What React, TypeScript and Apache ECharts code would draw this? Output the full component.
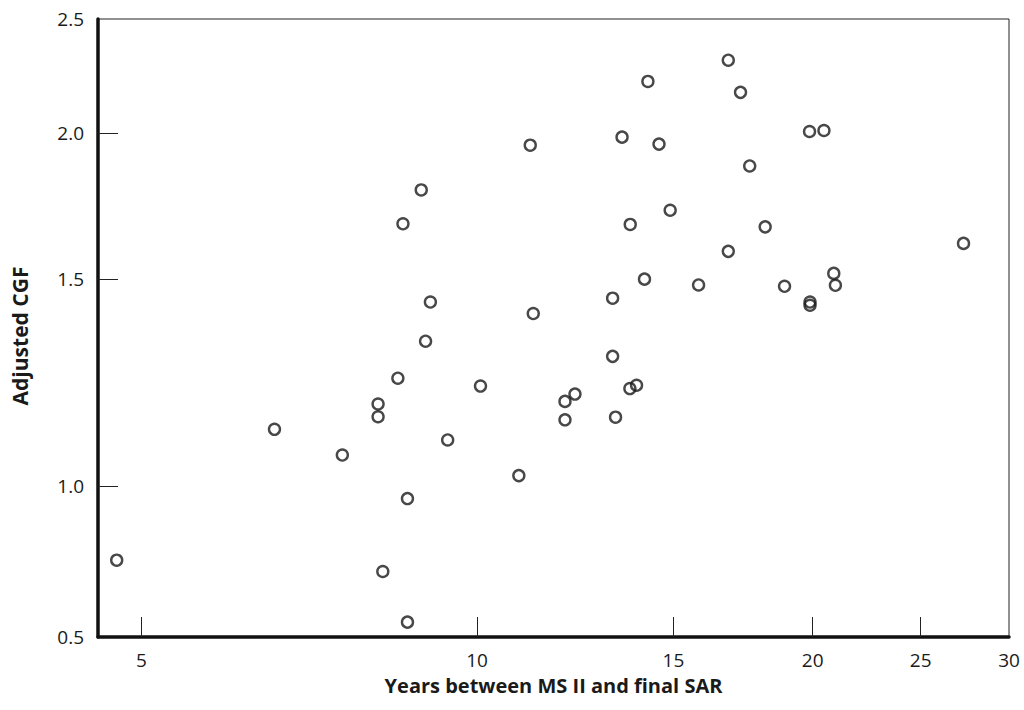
import React, { useEffect, useRef } from "react";
import * as echarts from "echarts";

// Years between MS II and final SAR (x) and Adjusted CGF (y), one entry per program
const xYears = [
  4.75, 6.58, 7.57, 8.15, 8.15, 8.23, 8.49, 8.58, 8.66, 8.66, 8.91, 8.99, 9.08, 9.41,
  10.07, 10.9, 11.16, 11.23, 11.99, 11.99, 12.24, 13.23, 13.23, 13.31, 13.49, 13.71,
  13.72, 13.9, 14.13, 14.23, 14.56, 14.9, 15.8, 16.8, 16.8, 17.23, 17.56, 18.13, 18.87,
  19.87, 19.89, 19.89, 20.47, 20.89, 20.96, 27.31,
];
const yCGF = [
  0.865, 1.118, 1.063, 1.175, 1.146, 0.846, 1.236, 1.673, 0.976, 0.766, 1.788, 1.329,
  1.435, 1.095, 1.217, 1.021, 1.952, 1.403, 1.181, 1.139, 1.198, 1.29, 1.446, 1.145,
  1.983, 1.211, 1.671, 1.219, 1.501, 2.212, 1.956, 1.718, 1.484, 2.306, 1.585, 2.165,
  1.874, 1.663, 1.48, 2.005, 1.435, 1.426, 2.009, 1.518, 1.483, 1.61,
];

// Axis extents (both axes are logarithmic)
const xMin = 4.57;
const xMax = 30;
const yMin = 0.744;
const yMax = 2.5;

// Ticks and labels
const xTickValues = [5, 10, 15, 20, 25];
const xLabelValues = [5, 10, 15, 20, 25, 30];
const yTickValues = [1.0, 1.5, 2.0];
const yLabelValues = [1.0, 1.5, 2.0, 2.5];
const yBottomLabel = "0.5";

const xTitle = "Years between MS II and final SAR";
const yTitle = "Adjusted CGF";

const lg = (v: number) => Math.log10(v);
const FONT = "'Open Sans', 'DejaVu Sans', sans-serif";
const INK = "#1a1a1a";

export default function App() {
  const ref = useRef<HTMLDivElement>(null);

  useEffect(() => {
    if (!ref.current) return;
    const chart = echarts.init(ref.current, null, { renderer: "svg" });
    const data = xYears.map((x, i) => [lg(x), lg(yCGF[i])]);
    const yMinL = lg(yMin);

    chart.setOption({
      animation: false,
      backgroundColor: "#ffffff",
      grid: {
        left: 98,
        right: 15,
        top: 19,
        bottom: 73,
        show: true,
        borderColor: "#222",
        borderWidth: 1,
        containLabel: false,
      },
      xAxis: {
        type: "value",
        min: lg(xMin),
        max: lg(xMax),
        name: xTitle,
        nameLocation: "middle",
        nameGap: 38,
        nameTextStyle: { fontFamily: FONT, fontSize: 20, fontWeight: "bold", color: INK },
        axisLine: { show: true, onZero: false, lineStyle: { color: "#111", width: 3.5 } },
        axisTick: {
          show: true,
          inside: true,
          length: 20,
          customValues: xTickValues.map(lg),
          lineStyle: { color: "#222", width: 1 },
        },
        axisLabel: {
          show: true,
          customValues: xLabelValues.map(lg),
          formatter: (v: number) => String(Math.round(Math.pow(10, v))),
          fontFamily: FONT,
          fontSize: 19,
          color: INK,
          margin: 13,
        },
        splitLine: { show: false },
      },
      yAxis: {
        type: "value",
        min: yMinL,
        max: lg(yMax),
        name: yTitle,
        nameLocation: "middle",
        nameGap: 68,
        nameRotate: 90,
        nameTextStyle: {
          fontFamily: FONT,
          fontSize: 21,
          fontWeight: "bold",
          color: INK,
          padding: [0, 16, 0, 0],
        },
        axisLine: { show: true, onZero: false, lineStyle: { color: "#111", width: 3.5 } },
        axisTick: {
          show: true,
          inside: true,
          length: 20,
          customValues: yTickValues.map(lg),
          lineStyle: { color: "#222", width: 1 },
        },
        axisLabel: {
          show: true,
          customValues: [yMinL, ...yLabelValues.map(lg)],
          formatter: (v: number) =>
            Math.abs(v - yMinL) < 1e-9 ? yBottomLabel : Math.pow(10, v).toFixed(1),
          fontFamily: FONT,
          fontSize: 19,
          color: INK,
          margin: 14,
        },
        splitLine: { show: false },
      },
      series: [
        {
          type: "scatter",
          data,
          symbol: "circle",
          symbolSize: 11,
          itemStyle: { color: "rgba(0,0,0,0)", borderColor: INK, borderWidth: 2.4 },
          emphasis: { disabled: true },
        },
      ],
    });

    return () => chart.dispose();
  }, []);

  return (
    <div
      ref={ref}
      style={{ position: "fixed", left: 0, top: 0, width: 1024, height: 710, background: "#fff" }}
    />
  );
}
